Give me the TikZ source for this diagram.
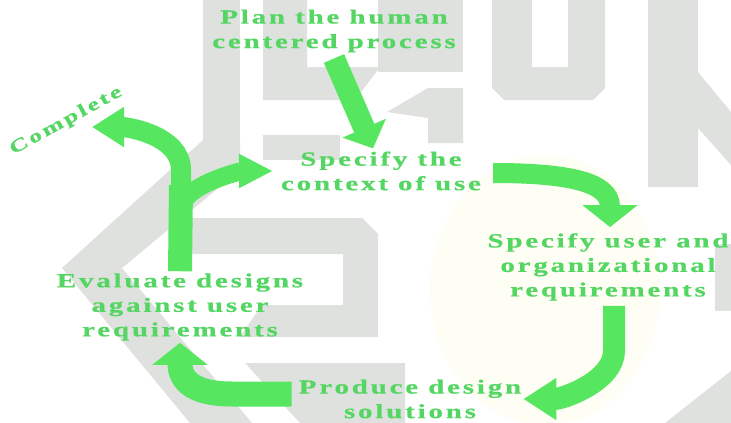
\documentclass[tikz,border=0pt]{standalone}
\usepackage{fontspec}
\usetikzlibrary{arrows.meta,positioning}
\newfontfamily\lblfont[UprightFont={* Bold},FakeStretch=1.45,LetterSpace=14,FakeBold=0.6]{Liberation Serif}
\definecolor{arrgreen}{RGB}{86,230,96}
\definecolor{txtgreen}{RGB}{84,214,98}
\definecolor{wmgray}{RGB}{223,225,222}
\definecolor{wmyellow}{RGB}{255,254,245}

\begin{document}
\begin{tikzpicture}[x=1pt, y=-1pt,
        txt/.style={text=txtgreen, align=center, inner sep=2pt,
          font=\lblfont\fontsize{20}{24.5}\selectfont},
        arr/.style={draw=arrgreen},
        wm/.style={fill=wmgray, draw=none}
      ]
        \useasboundingbox[fill=white] (0,0) rectangle (731,423);
        \fill[wmyellow] (545,290) ellipse [x radius=115, y radius=135];
        \fill[wm] (203,0) rectangle (240,150);
        \fill[wm] (263,0) -- (307,0) -- (307,67) -- (380,67) -- (355,100) -- (263,100) -- cycle;
        \fill[wm] (378,0) rectangle (463,72);
        \fill[wm] (387,112) -- (428,88) -- (463,88) -- (463,143) -- (428,143) -- (428,118) -- cycle;
        \fill[wm] (263,135) rectangle (340,160);
        \fill[wm] (492,0) -- (605,0) -- (605,88) -- (593,100) -- (504,100) -- (492,88) -- cycle;
        \fill[white] (532,0) rectangle (568,67);
        \fill[wm] (648,0) -- (698,0) -- (698,72) -- (731,112) -- (731,165) -- (698,128) -- (698,187) -- (648,187) -- cycle;
        \fill[wm] (715,244) rectangle (731,311);
        \fill[wm] (665,423) -- (731,371) -- (731,423) -- cycle;
        \fill[wm] (203,140) -- (240,140) -- (240,170) -- (122,268) -- (252,423) -- (190,423) -- (62,268) -- cycle;
        \fill[wm] (185,218) -- (362,218) -- (378,234) -- (378,337) -- (240,337) -- (262,305) -- (343,305) -- (343,254) -- (185,254) -- cycle;
        \fill[wm] (245,363) -- (405,363) -- (405,423) -- (300,423) -- cycle;

        \node[txt] (plan) at (334,31) {Plan the human\\centered process};
        \node[txt] (ctx) at (381,171) {Specify the\\context of use};
        \node[txt] (req) at (608,267) {Specify user and\\organizational\\requirements};
        \node[txt] (prod) at (410,399) {Produce design\\solutions};
        \node[txt] (eval) at (180,307) {Evaluate designs\\against user\\requirements};
        \node[txt, font=\lblfont\fontsize{18}{20}\selectfont, rotate=28.6] (complete) at (66,121) {Complete};
        \coordinate (fork) at (181,185);
        \coordinate (done) at (92,127);

        \draw[arr, line width=22pt, -{Triangle[length=22pt,width=46pt]}] ([yshift=-4pt]plan.south) -- ([xshift=-8pt,yshift=1pt]ctx.north);
        \draw[arr, line width=20pt, -{Triangle[length=22pt,width=54pt]}] ([xshift=10pt,yshift=-2pt]ctx.east) .. controls +(75,0) and +(0,-45) .. ([xshift=2pt,yshift=4pt]req.north);
        \draw[arr, line width=22pt, -{Triangle[length=33pt,width=40pt]}] ([xshift=6pt,yshift=-3pt]req.south) -- ++(0,45) .. controls +(0,30) and +(40,0) .. (prod.east);
        \draw[arr, line width=25pt, -{Triangle[length=22pt,width=54pt]}] ([xshift=-5pt,yshift=5pt]prod.west) -- ++(-60,0) .. controls +(-38,0) and +(0,38) .. (eval.south);
        \draw[arr, line width=24pt] (eval.north) -- (fork);
        \draw[arr, line width=20pt, -{Triangle[length=32pt,width=38pt]}] (fork) -- ++(0,-15) .. controls +(0,-35) and +(35,0) .. (done);
        \draw[arr, line width=18pt, -{Triangle[length=34pt,width=32pt]}] ([yshift=-25pt]fork) .. controls +(0,-25) and +(-30,0) .. ([xshift=-6pt]ctx.west);
      \end{tikzpicture}
\end{document}
